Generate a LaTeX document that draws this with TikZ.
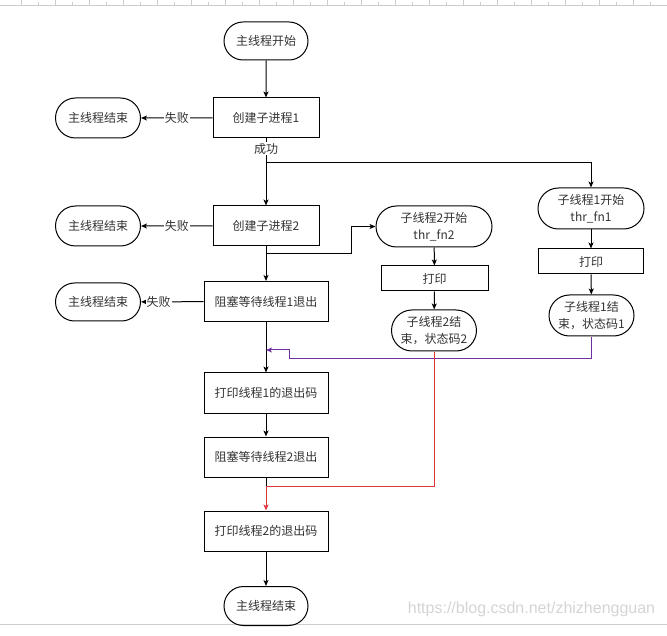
\documentclass[tikz,border=0pt]{standalone}
\usepackage{fontspec}
\setmainfont{Noto Sans CJK SC}
\newfontfamily\wmfont{Liberation Sans}
\usetikzlibrary{arrows.meta}
\usetikzlibrary{shapes.misc}
\definecolor{txtgray}{RGB}{51,51,51}
\definecolor{purpline}{RGB}{112,48,160}
\definecolor{redline}{RGB}{225,55,60}
\definecolor{rulegray}{RGB}{205,205,205}
\definecolor{wmgray}{RGB}{212,212,212}
\tikzset{
  term/.style={draw, rounded rectangle, inner sep=0pt, align=center, text=txtgray},
  proc/.style={draw, rectangle, inner sep=0pt, align=center, text=txtgray},
  flow/.style={->, >={Stealth[length=6pt,width=5pt,inset=1.5pt]}},
  lbl/.style={fill=white, inner sep=1pt, text=txtgray}
}

\begin{document}
\begin{tikzpicture}[x=1pt, y=-1pt, line width=1pt, font=\fontsize{12}{17}\selectfont]
\useasboundingbox (0,0) rectangle (667,636);
% ruler on top, page edge below
\draw[rulegray, line width=0.6pt] (0,5) -- (667,5);
\foreach \x in {21,55,...,667} {
 \draw[rulegray, line width=0.6pt] (\x,0) --++(0,5);
 \draw[rulegray, line width=0.6pt] (\x+17,2) --++(0,3);
}
\draw[rulegray, line width=0.8pt] (0,624) -- (667,624);
\node[wmgray, anchor=east, font=\wmfont\fontsize{16}{16}\selectfont] (wm) at (659,609) {https://blog.csdn.net/zhizhengguan};

% main thread
\node[term, minimum width=84pt, minimum height=38pt] (start) at (266,41) {主线程开始};
\node[proc, minimum width=106pt, minimum height=40pt] (create1) at (266,118) {创建子进程1};
\node[proc, minimum width=106pt, minimum height=40pt] (create2) at (266,226) {创建子进程2};
\node[proc, minimum width=124pt, minimum height=40pt] (block1) at (266,301.5) {阻塞等待线程1退出};
\node[proc, minimum width=124pt, minimum height=40pt] (print1) at (266,393) {打印线程1的退出码};
\node[proc, minimum width=124pt, minimum height=40pt] (block2) at (266,457) {阻塞等待线程2退出};
\node[proc, minimum width=124pt, minimum height=40pt] (print2) at (266,531) {打印线程2的退出码};
\node[term, minimum width=84pt, minimum height=39pt] (stop) at (266,606) {主线程结束};

% failure exits
\node[term, minimum width=85pt, minimum height=40pt] (end1) at (98,118) {主线程结束};
\node[term, minimum width=85pt, minimum height=40pt] (end2) at (98,226) {主线程结束};
\node[term, minimum width=85pt, minimum height=38pt] (end3) at (98,302) {主线程结束};

% thread 2
\node[term, minimum width=116pt, minimum height=41pt] (thr2start) at (434,226.5) {子线程2开始\\thr\_fn2};
\node[proc, minimum width=107pt, minimum height=25pt] (thr2print) at (434.5,278.5) {打印};
\node[term, minimum width=85pt, minimum height=41pt] (thr2end) at (434,330.5) {子线程2结\\束，状态码2};

% thread 1
\node[term, minimum width=106pt, minimum height=41pt] (thr1start) at (591,208.5) {子线程1开始\\thr\_fn1};
\node[proc, minimum width=105pt, minimum height=25pt] (thr1print) at (591,261.5) {打印};
\node[term, minimum width=85pt, minimum height=41pt] (thr1end) at (591.5,315.5) {子线程1结\\束，状态码1};

\coordinate (fork1) at (266,163);
\coordinate (fork2) at (266,254);
\coordinate (bend2) at (351,226.5);
\coordinate (jog1) at (289,359);
\coordinate (join1) at (266,350);
\coordinate (join2) at (266,486);

\draw[flow] (start) -- (create1);
\draw[flow] (create1) -- node[lbl]{失败} (end1);
\draw[flow] (create1) -- node[lbl, pos=0.15]{成功} (create2);
\draw[flow] (fork1) -| (thr1start);
\draw[flow] (create2) -- node[lbl]{失败} (end2);
\draw[flow] (create2) -- (block1);
\draw[flow] (fork2) -| (bend2) -- (thr2start);
\draw[flow] (block1) -- node[lbl, pos=0.72]{失败} (end3);
\draw[flow] (block1) -- (print1);
\draw[flow] (print1) -- (block2);
\draw (block2) -- (join2);
\draw[flow] (print2) -- (stop);

\draw[flow] (thr1start) -- (thr1print);
\draw[flow] (thr1print) -- (thr1end);
\draw[flow] (thr2start) -- (thr2print);
\draw[flow] (thr2print) -- (thr2end);

\draw[flow, purpline] (thr1end) |- (jog1) |- (join1);
\draw[flow, redline] (thr2end) |- (join2) -- (print2);
\end{tikzpicture}
\end{document}
